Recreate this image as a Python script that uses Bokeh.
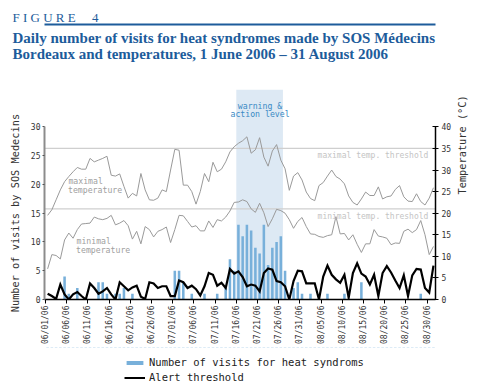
import math
import numpy as np
from bokeh.plotting import figure
from bokeh.models import (Range1d, LinearAxis, FixedTicker, Span, BoxAnnotation,
                          Label, Legend, LegendItem, Title)
from bokeh.layouts import column
from bokeh.embed import file_html
from bokeh.resources import INLINE

# ---------------- data (1 June 2006 = day 0 ... 31 August 2006 = day 91) -------------
visits = [0, 0, 0, 0, 4, 1, 0, 2, 0, 0,
          0, 0, 3, 3, 1, 0, 1, 1, 2, 0,
          1, 0, 0, 0, 0, 0, 0, 0, 0, 0,
          5, 5, 3, 0, 1, 0, 0, 1, 0, 0,
          1, 0, 2, 7, 5, 13, 11, 13, 12, 9,
          8, 13, 6, 9, 10, 11, 5, 0, 2, 3,
          1,
          0, 1, 0, 0, 0, 1, 0, 0, 0, 1,
          0, 0, 0, 3, 0, 0, 0, 0, 0, 0,
          0, 0, 0, 0, 0, 0, 0, 1, 0, 0, 0]

alert = [1.0, 0.6, 0.1, 2.6, 0.9, 0.0, 0.9, 1.3, 0.6, 0.0,
         2.8, 2.0, 1.0, 1.4, 2.0, 0.9, 0.0, 3.0, 2.3, 1.6,
         2.1, 2.4, 0.5, 0.1, 3.0, 2.8, 2.0, 2.3, 2.3, 0.6,
         0.6, 3.3, 3.0, 2.0, 2.4, 1.8, 0.7, 2.3, 4.6, 4.3,
         2.4, 2.9, 2.0, 5.3, 4.5, 4.9, 3.9, 2.3, 2.6, 2.4,
         1.4, 4.6, 5.4, 5.2, 3.2, 3.0, 2.3, 0.0, 3.2, 5.0,
         4.9,
         2.8, 2.8, 2.8, 0.0, 4.0, 5.9, 4.3, 3.5, 2.9, 4.3,
         0.3, 4.6, 6.3, 4.5, 4.0, 2.6, 4.3, 0.6, 4.6, 5.8,
         4.7, 3.3, 2.0, 4.2, 0.6, 4.2, 5.3, 5.2, 2.0, 1.2, 5.9]

tmax = [19.5, 20.8, 23.1, 25.4, 27.3, 28.5, 29.6, 30.6, 30.2, 30.2,
        32.7, 31.9, 32.3, 32.7, 33.2, 28.8, 28.6, 29.1, 26.2, 23.5,
        24.6, 24.0, 29.2, 25.4, 23.1, 23.0, 23.5, 25.4, 25.0, 30.0,
        34.8, 34.6, 26.5, 26.5, 25.0, 22.1, 25.0, 29.2, 27.3, 31.8,
        29.6, 30.2, 31.9, 34.2, 35.4, 36.2, 36.8, 37.7, 33.9, 34.7,
        37.5, 33.0, 30.9, 34.4, 35.9, 32.3, 30.3, 25.3, 28.6, 29.4,
        27.7,
        24.9, 23.4, 22.9, 26.4, 27.1, 28.6, 30.0, 28.5, 27.9, 26.8,
        24.0, 22.5, 21.9, 23.3, 24.9, 24.1, 24.1, 26.1, 23.3, 23.8,
        24.0, 25.5, 26.4, 23.8, 22.8, 22.7, 24.5, 22.7, 21.9, 23.5, 25.9]

tmin = [7.1, 10.4, 10.2, 9.4, 13.8, 15.4, 14.2, 16.2, 17.5, 17.6,
        17.7, 19.1, 18.7, 18.5, 18.8, 19.5, 17.3, 17.7, 18.3, 17.1,
        14.0, 15.8, 12.9, 16.9, 16.2, 14.5, 15.8, 16.2, 16.8, 13.2,
        16.2, 19.5, 19.4, 18.1, 16.8, 17.1, 15.9, 15.9, 18.2, 16.7,
        18.5, 18.2, 19.1, 20.5, 22.5, 22.6, 23.1, 22.7, 21.0, 20.2,
        22.3, 20.1, 16.9, 18.7, 20.9, 20.6, 20.0, 18.5, 16.5, 18.1,
        19.0,
        16.9, 15.2, 15.1, 14.6, 14.4, 14.8, 15.0, 19.2, 15.2, 15.3,
        13.8, 15.0, 12.8, 10.9, 12.9, 12.9, 16.2, 14.7, 14.5, 14.2,
        12.7, 13.1, 13.0, 15.8, 16.3, 15.5, 16.2, 18.3, 15.0, 10.4, 12.3]

TMAX_THRESHOLD = 35
TMIN_THRESHOLD = 21
WARNING_START = 45   # 16 July
WARNING_END = 56     # end of 26 July

tick_days = [0, 5, 10, 15, 20, 25, 30, 35, 40, 45, 50, 55, 60, 65, 70, 75, 80, 85, 90]
tick_labels = ["06/01/06", "06/06/06", "06/11/06", "06/16/06", "06/21/06", "06/26/06",
               "07/01/06", "07/06/06", "07/11/06", "07/16/06", "07/21/06", "07/26/06",
               "07/31/06", "08/05/06", "08/10/06", "08/15/06", "08/20/06", "08/25/06",
               "08/30/06"]
left_ticks = [0, 5, 10, 15, 20, 25, 30]
right_ticks = [0, 5, 10, 15, 20, 25, 30, 35, 40]

# ---------------- styles -------------
MONO = "DejaVu Sans Mono"
SERIF = "Liberation Serif"
TITLE_BLUE = "#1d5c9b"
BAR_COLOR = "#78b0da"
BAND_COLOR = "#dde9f4"
TEMP_GRAY = "#9a9a9a"

days = np.arange(len(visits)) + 0.5   # each day drawn at its centre

LEFT_TOP = 36.5
TEMP_TOP = LEFT_TOP * 40 / 30
NB = "\u00a0"

# ---------------- header -------------
h = figure(width=482, height=75, x_range=Range1d(0, 1), y_range=Range1d(0, 1),
           x_axis_location=None, y_axis_location=None, min_border=0, min_border_top=65,
           output_backend="svg", toolbar_location=None)
h.outline_line_color = None
h.xgrid.visible = False
h.ygrid.visible = False
h.add_layout(Title(text="Daily number of visits for heat syndromes made by SOS Médecins\n"
                        "Bordeaux and temperatures, 1 June 2006 \u2013 31 August 2006",
                   align="left", offset=-32, standoff=6, vertical_align="bottom",
                   text_font=SERIF, text_font_size="15px", text_font_style="bold",
                   text_color=TITLE_BLUE, text_line_height=1.04), "above")
rule = LinearAxis(ticker=FixedTicker(ticks=[]), axis_line_color=TITLE_BLUE,
                  axis_line_width=1.8, major_tick_line_color=None, minor_tick_line_color=None)
h.add_layout(rule, "above")
h.add_layout(Title(text=NB.join("FIGURE") + NB * 5 + "4",
                   align="left", offset=-32, standoff=0, vertical_align="bottom",
                   text_font=SERIF, text_font_size="13px", text_font_style="normal",
                   text_color=TITLE_BLUE), "above")

# ---------------- main chart -------------
p = figure(width=482, height=272, x_range=Range1d(-0.236, 91.98),
           y_range=Range1d(0, LEFT_TOP),
           output_backend="svg", toolbar_location=None,
           min_border_left=44, min_border_right=47, min_border_top=14, min_border_bottom=47)
p.extra_y_ranges = {"temp": Range1d(0, TEMP_TOP)}
p.outline_line_color = None
p.grid.visible = False

p.add_layout(BoxAnnotation(left=WARNING_START, right=WARNING_END, fill_color=BAND_COLOR,
                           fill_alpha=1.0, line_color=None, level="underlay"))
p.add_layout(Span(location=TMAX_THRESHOLD, dimension="width", y_range_name="temp",
                  line_color="#cfcfcf", line_width=1.3, level="underlay"))
p.add_layout(Span(location=TMIN_THRESHOLD, dimension="width", y_range_name="temp",
                  line_color="#cfcfcf", line_width=1.3, level="underlay"))

p.line(days, tmax, y_range_name="temp", line_color=TEMP_GRAY, line_width=1)
p.line(days, tmin, y_range_name="temp", line_color=TEMP_GRAY, line_width=1)
p.vbar(x=days, top=visits, width=0.6, fill_color=BAR_COLOR, line_color=None)
p.line(days, alert, line_color="black", line_width=2.2, line_join="miter")

# x axis
xa = p.xaxis[0]
xa.ticker = FixedTicker(ticks=tick_days)
xa.major_label_overrides = {d: lab for d, lab in zip(tick_days, tick_labels)}
xa.major_label_orientation = math.pi / 2
xa.major_label_text_font = MONO
xa.major_label_text_font_size = "8px"
xa.major_label_text_color = "#333333"
xa.major_label_standoff = 2
xa.major_tick_out = 4
xa.major_tick_in = 0
xa.minor_tick_line_color = None
xa.axis_line_color = "black"
xa.axis_line_width = 1.5

# left axis
ya = p.yaxis[0]
ya.bounds = (0, 30)
ya.ticker = FixedTicker(ticks=left_ticks)
ya.axis_line_color = "#8c8c8c"
ya.axis_line_width = 2
ya.major_tick_out = 2
ya.major_tick_in = 0
ya.major_tick_line_color = "#555555"
ya.minor_tick_line_color = None
ya.major_label_standoff = 2
ya.major_label_text_font = MONO
ya.major_label_text_font_size = "8px"
ya.major_label_text_color = "#333333"
ya.axis_label = "Number of visits by SOS Medecins" + NB * 6   # trailing pad lowers it
ya.axis_label_text_font = MONO
ya.axis_label_text_font_size = "10.3px"
ya.axis_label_text_font_style = "normal"
ya.axis_label_text_color = "#333333"
ya.axis_label_standoff = 7

# right axis
ra = LinearAxis(y_range_name="temp", bounds=(0, 40), ticker=FixedTicker(ticks=right_ticks))
ra.axis_line_color = "black"
ra.axis_line_width = 1.5
ra.major_tick_in = 3
ra.major_tick_out = 3
ra.major_tick_line_color = "black"
ra.minor_tick_line_color = None
ra.major_label_standoff = 3
ra.major_label_text_font = MONO
ra.major_label_text_font_size = "8px"
ra.major_label_text_color = "#333333"
ra.axis_label = "Temperature (°C)"
ra.axis_label_text_font = MONO
ra.axis_label_text_font_size = "10.3px"
ra.axis_label_text_font_style = "normal"
ra.axis_label_text_color = "#333333"
ra.axis_label_standoff = 8
try:
    ra.axis_label_orientation = math.pi / 2   # read bottom-to-top, as in the original
except Exception:
    pass
try:
    ra.axis_label_text_align = "center"
except Exception:
    pass
p.add_layout(ra, "right")

# annotations inside the chart
def note(x, y, txt, color, size, align="left"):
    p.add_layout(Label(x=x, y=y, text=txt, text_font=MONO, text_font_size=size,
                       text_color=color, text_align=align, text_baseline="alphabetic"))

note(5.4, 20.6, "maximal", "#a0a0a0", "8.2px")
note(5.3, 19.1, "temperature", "#a0a0a0", "8.2px")
note(7.3, 10.1, "minimal", "#a0a0a0", "8.2px")
note(7.2, 8.6, "temperature", "#a0a0a0", "8.2px")
note(50.6, 33.7, "warning &", "#3a8ac4", "8.2px", "center")
note(50.6, 32.2, "action level", "#3a8ac4", "8.2px", "center")
note(90.3, 25.0, "maximal temp. threshold", "#c4c4c4", "8px", "right")
note(90.3, 14.45, "minimal temp. threshold", "#c4c4c4", "8px", "right")

# ---------------- legend strip (its series are the same data, kept out of view) -------------
lg = figure(width=482, height=44, x_range=Range1d(-0.236, 91.98), y_range=Range1d(-20, -19),
            x_axis_location=None, y_axis_location=None, min_border=0,
            output_backend="svg", toolbar_location=None)
lg.outline_line_color = None
lg.xgrid.visible = False
lg.ygrid.visible = False
lg_bars = lg.vbar(x=days, top=visits, width=0.6, fill_color=BAR_COLOR, line_color=None)
lg_alert = lg.line(days, alert, line_color="black", line_width=2)
leg = Legend(items=[LegendItem(label="Number of visits for heat syndroms", renderers=[lg_bars]),
                    LegendItem(label="Alert threshold", renderers=[lg_alert])],
             location=(80, 8), orientation="vertical",
             glyph_width=21, glyph_height=5, label_height=5, label_standoff=4,
             spacing=3, padding=0, margin=0, border_line_color=None,
             background_fill_alpha=0,
             label_text_font=MONO, label_text_font_size="10.5px", label_text_color="#222222")
lg.add_layout(leg)

layout = column(h, p, lg)
open("out.html", "w").write(file_html(layout, INLINE))
